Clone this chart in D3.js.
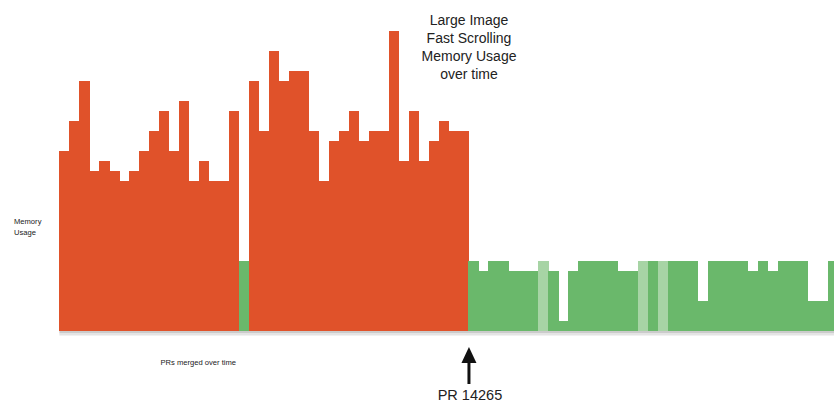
<!DOCTYPE html>
<html>
<head>
<meta charset="utf-8">
<script src="https://cdn.jsdelivr.net/npm/d3@7/dist/d3.min.js"></script>
<style>
  html, body { margin: 0; padding: 0; background: #fff; }
  svg { display: block; }
  text { font-family: "Liberation Sans", Arial, Helvetica, sans-serif; fill: #222; }
</style>
</head>
<body>
<svg id="chart" width="834" height="402"></svg>
<script>
// ---- data ----
// PR sequence index (merged over time)
const prIndex = d3.range(1, 79);
// memory usage (arbitrary units) per PR
const memoryUsage = [
  18, 21, 25, 16, 17, 16, 15, 16, 18, 20, 22, 18, 23, 15, 17, 15, 15, 22, 7, 25,
  20, 28, 25, 26, 26, 20, 15, 19, 20, 22, 19, 20, 20, 30, 17, 22, 17, 19, 21, 20,
  20,
  7, 6, 7, 7, 6, 6, 6, 7, 6, 1, 6, 7, 7, 7, 7, 6, 6, 7, 7, 7,
  7, 7, 7, 3, 7, 7, 7, 7, 6, 7, 6, 7, 7, 7, 3, 3, 7
];
// bar state: o = before fix (orange), g = after fix (green), l = light green
const barKind = [
  "o","o","o","o","o","o","o","o","o","o","o","o","o","o","o","o","o","o","g","o",
  "o","o","o","o","o","o","o","o","o","o","o","o","o","o","o","o","o","o","o","o",
  "o",
  "g","g","g","g","g","g","g","l","g","g","g","g","g","g","g","g","g","l","g","l",
  "g","g","g","g","g","g","g","g","g","g","g","g","g","g","g","g","g"
];
const titleLines = ["Large Image", "Fast Scrolling", "Memory Usage", "over time"];
const yLabelLines = ["Memory", "Usage"];
const xLabel = "PRs merged over time";
const markerLabel = "PR 14265";
const markerIndex = 41; // first bar after the fix

const colors = { o: "#E0522A", g: "#6AB86B", l: "#A7D4A5" };

// ---- layout ----
const svg = d3.select("#chart");
const x0 = 59.4, step = 9.977;
const x = d3.scaleBand()
  .domain(prIndex)
  .range([x0, x0 + step * prIndex.length])
  .padding(0);
const y = d3.scaleLinear().domain([0, 30]).range([330.5, 30.5]);

// baseline strip
svg.append("rect")
  .attr("x", x0).attr("y", y(0))
  .attr("width", 834 - x0).attr("height", 3)
  .attr("fill", "#cbcbcb");
svg.append("rect")
  .attr("x", x0).attr("y", y(0) + 3)
  .attr("width", 834 - x0).attr("height", 2)
  .attr("fill", "#e4e4e4");

// bars
svg.append("g").selectAll("rect")
  .data(prIndex)
  .join("rect")
  .attr("x", (d) => x(d))
  .attr("width", x.bandwidth() + 0.3)
  .attr("y", (d, i) => y(memoryUsage[i]))
  .attr("height", (d, i) => y(0) - y(memoryUsage[i]))
  .attr("fill", (d, i) => colors[barKind[i]])
  .attr("shape-rendering", "crispEdges");

// title
const tx = 469;
svg.append("g").selectAll("text")
  .data(titleLines)
  .join("text")
  .attr("x", tx)
  .attr("y", (d, i) => 25 + i * 18)
  .attr("text-anchor", "middle")
  .attr("font-size", 14)
  .text((d) => d);

// y label
svg.append("g").selectAll("text")
  .data(yLabelLines)
  .join("text")
  .attr("x", 14)
  .attr("y", (d, i) => 224 + i * 11)
  .attr("font-size", 7.6)
  .text((d) => d);

// x label
svg.append("text")
  .attr("x", 160.5).attr("y", 365)
  .attr("font-size", 7.6)
  .text(xLabel);

// marker arrow
const ax = x(prIndex[markerIndex]) + 0.5;
svg.append("line")
  .attr("x1", ax).attr("x2", ax)
  .attr("y1", 360).attr("y2", 384)
  .attr("stroke", "#111").attr("stroke-width", 3);
svg.append("path")
  .attr("d", `M${ax},347 L${ax - 7.5},363 L${ax + 7.5},363 Z`)
  .attr("fill", "#111");
svg.append("text")
  .attr("x", ax + 1).attr("y", 400)
  .attr("text-anchor", "middle")
  .attr("font-size", 14.5)
  .text(markerLabel);
</script>
</body>
</html>
